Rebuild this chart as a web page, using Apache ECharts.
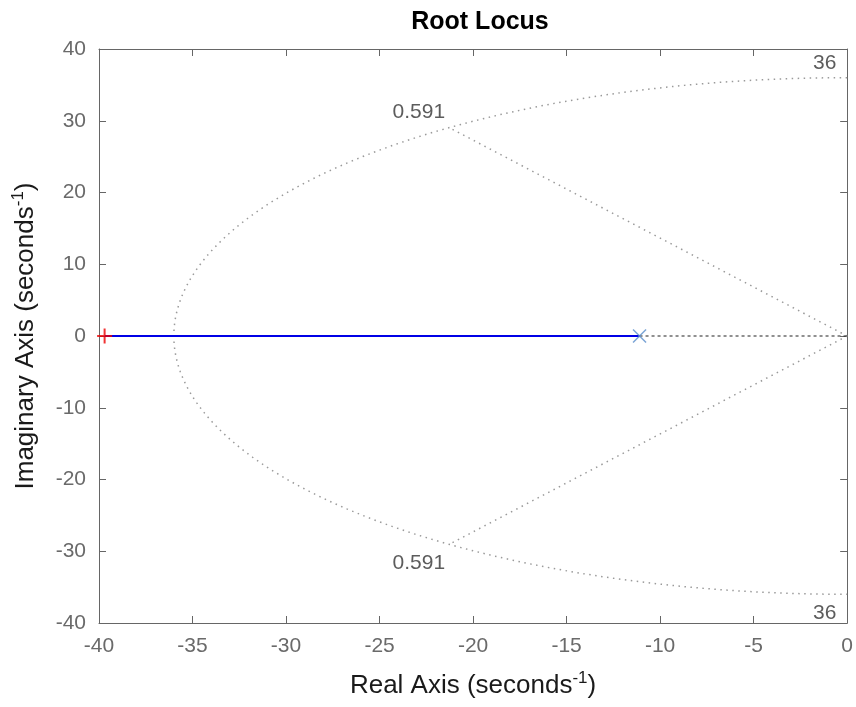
<!DOCTYPE html>
<html>
<head>
<meta charset="utf-8">
<script src="https://cdn.jsdelivr.net/npm/echarts@6/dist/echarts.min.js"></script>
<style>
  html, body { margin: 0; padding: 0; background: #fff; }
  #chart { width: 856px; height: 707px; }
</style>
</head>
<body>
<div id="chart"></div>
<script>
// 根轨迹数据（实轴上）
const locusReal = [-39.7, -11.1];      // 蓝色根轨迹段
const dashedReal = [-11.1, 0];         // 黑色虚线段
const zeroMark = [-39.7, 0];           // 红色 +
const poleMark = [-11.1, 0];           // 蓝色 ×

// sgrid 参数
const wnValue = 36;
const zetaValue = 0.591;

// 网格标签
const gridLabelText = ['0.591', '0.591', '36', '36'];
const gridLabelX = [-22.9, -22.9, -1.2, -1.2];
const gridLabelY = [31.2, -31.6, 38.0, -38.6];

// 坐标轴
const xMin = -40, xMax = 0, xStep = 5;
const yMin = -40, yMax = 40, yStep = 10;

// 等自然频率半圆
const arcData = [];
for (let a = 90; a <= 270; a += 1) {
    const t = a * Math.PI / 180;
    arcData.push([wnValue * Math.cos(t), wnValue * Math.sin(t)]);
}
// 等阻尼比线
const wd = wnValue * Math.sqrt(1 - zetaValue * zetaValue);
const dampUp = [[0, 0], [-wnValue * zetaValue, wd]];
const dampDown = [[0, 0], [-wnValue * zetaValue, -wd]];

const gridLine = { color: '#9a9a9a', width: 1.5, type: [1.5, 4.5] };
const fontFamily = 'Liberation Sans, Arial, sans-serif';

const chart = echarts.init(document.getElementById('chart'));

const baseAxis = {
    type: 'value',
    axisLine: { show: true, onZero: false, lineStyle: { color: '#666', width: 1 } },
    axisTick: { show: true, inside: true, length: 7, lineStyle: { color: '#666' } },
    splitLine: { show: false }
};

const nameStyle = {
    fontSize: 26, color: '#1a1a1a', fontFamily: fontFamily,
    rich: { sup: { fontSize: 17, color: '#1a1a1a', fontFamily: fontFamily, padding: [0, 0, 14, 0] } }
};

chart.setOption({
    backgroundColor: '#fff',
    animation: false,
    title: {
        text: 'Root Locus',
        left: 475,
        textAlign: 'center',
        top: 5,
        textStyle: { fontSize: 25, fontWeight: 'bold', color: '#000', fontFamily: fontFamily }
    },
    grid: { left: 99, right: 7, top: 49, bottom: 84 },
    xAxis: [
        Object.assign({}, baseAxis, {
            min: xMin, max: xMax, interval: xStep,
            position: 'bottom',
            axisLabel: { fontSize: 21, color: '#6a6a6a', margin: 13, fontFamily: fontFamily },
            name: 'Real Axis (seconds{sup|-1})',
            nameLocation: 'middle',
            nameGap: 47,
            nameTextStyle: nameStyle
        }),
        Object.assign({}, baseAxis, {
            min: xMin, max: xMax, interval: xStep,
            position: 'top',
            axisLabel: { show: false }
        })
    ],
    yAxis: [
        Object.assign({}, baseAxis, {
            min: yMin, max: yMax, interval: yStep,
            position: 'left',
            axisLabel: { fontSize: 21, color: '#6a6a6a', margin: 13, fontFamily: fontFamily },
            name: 'Imaginary Axis (seconds{sup|-1})',
            nameLocation: 'middle',
            nameGap: 58,
            nameTextStyle: nameStyle
        }),
        Object.assign({}, baseAxis, {
            min: yMin, max: yMax, interval: yStep,
            position: 'right',
            axisLabel: { show: false }
        })
    ],
    series: [
        { type: 'line', data: arcData, symbol: 'none', lineStyle: gridLine, silent: true },
        { type: 'line', data: dampUp, symbol: 'none', lineStyle: gridLine, silent: true },
        { type: 'line', data: dampDown, symbol: 'none', lineStyle: gridLine, silent: true },
        {
            type: 'line', symbol: 'none',
            data: dashedReal.map(x => [x, 0]),
            lineStyle: { color: '#222', width: 1, type: [3, 3] }
        },
        {
            type: 'line', symbol: 'none',
            data: locusReal.map(x => [x, 0]),
            lineStyle: { color: '#0000e6', width: 2 }
        },
        {
            type: 'scatter',
            data: [zeroMark],
            symbol: 'path://M5,0L5,10M0,5L10,5',
            symbolSize: 15,
            itemStyle: { color: 'transparent', borderColor: '#ee0000', borderWidth: 2 },
            z: 5
        },
        {
            type: 'scatter',
            data: [poleMark],
            symbol: 'path://M0,0L10,10M10,0L0,10',
            symbolSize: 13,
            itemStyle: { color: 'transparent', borderColor: '#5b8fcc', borderWidth: 1.5 },
            z: 5
        },
        {
            type: 'scatter',
            symbolSize: 0,
            data: gridLabelText.map((t, i) => ({ value: [gridLabelX[i], gridLabelY[i]], name: t })),
            label: {
                show: true,
                position: 'inside',
                formatter: p => p.name,
                fontSize: 21,
                color: '#333',
                fontFamily: fontFamily
            },
            z: 6
        }
    ]
});
</script>
</body>
</html>
